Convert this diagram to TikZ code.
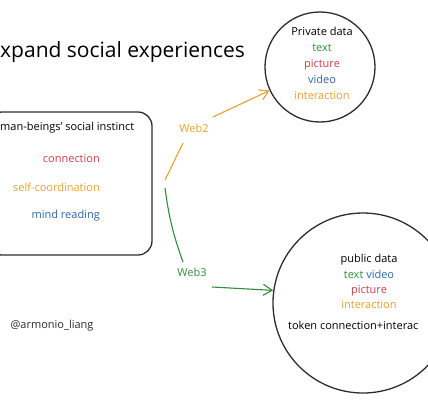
\documentclass[tikz,border=0pt]{standalone}
\usepackage{fontspec}
\setmainfont{Open Sans}
\usetikzlibrary{positioning,arrows.meta}
\definecolor{inkred}{RGB}{204,62,74}
\definecolor{inkorange}{RGB}{232,160,48}
\definecolor{inkgreen}{RGB}{52,140,62}
\definecolor{inkblue}{RGB}{44,102,172}
\definecolor{inkgrey}{RGB}{45,45,45}
\tikzset{
sketch/.style={draw=inkgrey,line width=1.3pt},
bubble/.style={sketch,circle,inner sep=0pt},
hand/.style={font=\fontsize{11}{13}\selectfont,inner sep=0pt,text height=8pt,text depth=2.5pt},
headline/.style={font=\fontsize{21}{24}\selectfont,inner sep=0pt},
flow/.style={line width=1.1pt,-{Straight Barb[length=9pt,width=11pt]}},
stroke/.style={line width=1.1pt}
}
\begin{document}
\begin{tikzpicture}[x=1pt,y=-1pt]
\useasboundingbox[fill=white] (0,0) rectangle (428,400);
% title
\node[headline,anchor=west] (title) at (0,52) {xpand social experiences};
% instinct box
\node[sketch,rounded corners=14pt,minimum width=164pt,minimum height=143pt] (instinct) at (70,183.5) {};
\node[hand,anchor=west] (head) at (0,128) {man-beings' social instinct};
\node[hand,text=inkred,anchor=east] (conn) at (100,160) {connection};
\node[hand,text=inkorange,anchor=east] (coord) at (100,189) {self-coordination};
\node[hand,text=inkblue,anchor=east] (mind) at (100,216) {mind reading};
\node[hand,text=inkgrey] (author) at (52,326) {@armonio\_liang};
% private data
\node[bubble,minimum size=110pt] (priv) at (320,67) {};
\node[hand] (privtitle) at (322,33) {Private data};
\node[hand,text=inkgreen,below=5pt of privtitle] (ptext) {text};
\node[hand,text=inkred,below=5pt of ptext] (ppic) {picture};
\node[hand,text=inkblue,below=5pt of ppic] (pvid) {video};
\node[hand,text=inkorange,below=5pt of pvid] (pint) {interaction};
% public data
\node[bubble,minimum size=180pt] (pub) at (363,303) {};
\node[hand] (pubtitle) at (369,260) {public data};
\node[hand,below=5pt of pubtitle] (ptv) {\textcolor{inkgreen}{text} \textcolor{inkblue}{video}};
\node[hand,text=inkred,below=4pt of ptv] (pubpic) {picture};
\node[hand,text=inkorange,below=4pt of pubpic] (pubint) {interaction};
\node[hand,anchor=west] (token) at (288,327) {token connection+interac};
% web2 / web3
\node[hand,text=inkorange] (web2) at (194,130) {Web2};
\node[hand,text=inkgreen] (web3) at (192,274) {Web3};
\coordinate (fork2) at (165,180);
\coordinate (fork3) at (165,188);
\draw[stroke,inkorange] (fork2) -- (183,143);
\draw[flow,inkorange] (213,117) -- (priv.205);
\draw[stroke,inkgreen] (fork3) to[bend right=6] (183,262);
\draw[flow,inkgreen] (212,287) -- (pub.172);
\end{tikzpicture}
\end{document}
